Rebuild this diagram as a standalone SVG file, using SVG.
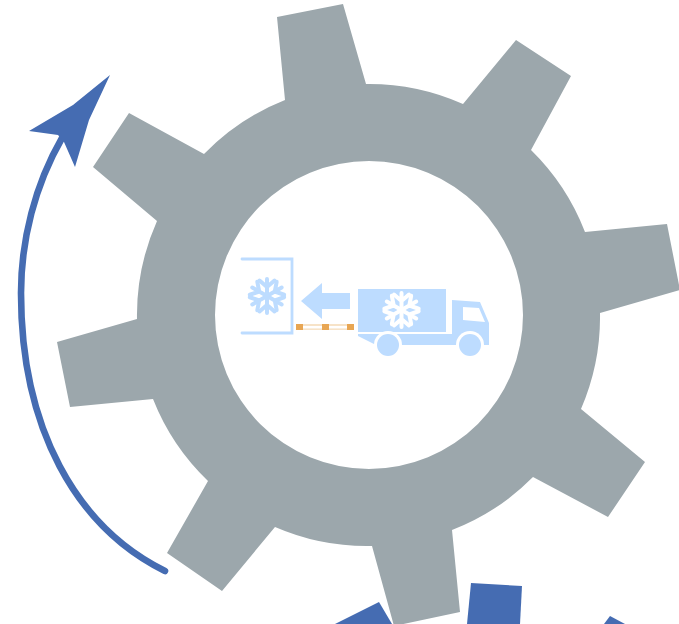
<svg xmlns="http://www.w3.org/2000/svg" width="679" height="624" viewBox="0 0 679 624">
<style>
.ice{fill:#bddcff}
.flk{fill:none;stroke-width:4;stroke-linecap:round;stroke-linejoin:round}
.blue{fill:#456cb2}
</style>
<defs>
<g id="arm"><path d="M0 0V-17M-7.500 -15.500L0 -9L7.500 -15.500"/></g>
<g id="flake" class="flk">
<use href="#arm"/><use href="#arm" transform="rotate(60)"/><use href="#arm" transform="rotate(120)"/><use href="#arm" transform="rotate(180)"/><use href="#arm" transform="rotate(240)"/><use href="#arm" transform="rotate(300)"/>
</g>
</defs>
<rect width="679" height="624" fill="#fff"/>
<g id="lower-gear" class="blue">
<polygon points="379,602 392,624 335,624"/>
<polygon points="471,583 522,586 520,624 467,624"/>
<polygon points="610,616 625,624 604,624"/>
</g>
<g id="gear">
<path fill="#9ca7ac" fill-rule="evenodd" d="M285 100L277 17L343 4L366 84A231 231 0 0 1 463 104L516 40L571 76L531 150A231 231 0 0 1 585 232L667 224L680 290L600 313A231 231 0 0 1 581 409L645 462L608 517L533 477A231 231 0 0 1 452 530L460 612L394 626L372 546A231 231 0 0 1 275 527L222 591L167 553L208 481A231 231 0 0 1 153 399L70 407L57 342L137 319A231 231 0 0 1 157 221L93 167L129 113L204 154A231 231 0 0 1 285 100Z M369 161A154 154 0 1 0 369 469A154 154 0 1 0 369 161Z"/>
</g>
<g id="rotation-arrow">
<path d="M165 571C76 527 21 428 21 293C21 240 35 185 62 138" fill="none" stroke="#456cb2" stroke-width="6.600" stroke-linecap="round"/>
<path class="blue" d="M110 75L73 105L29 131L58 135L64 142L75 167L89 120Z"/>
</g>
<g id="cold-store">
<path d="M242 259H292V333H242" fill="none" stroke="#bddcff" stroke-width="2.800" stroke-linecap="round"/>
<use href="#flake" transform="translate(267 296)" stroke="#bddcff"/>
</g>
<g id="unload-arrow">
<polygon class="ice" points="301,301 322,283 322,293 350,293 350,309 322,309 322,319"/>
</g>
<g id="pallet">
<rect x="296" y="324" width="58" height="6" fill="#f7e3c8"/>
<rect x="302" y="326" width="46" height="2.400" fill="#fff"/>
<rect x="296" y="324" width="7" height="6" fill="#e8a653"/>
<rect x="322" y="324" width="7" height="6" fill="#e8a653"/>
<rect x="347" y="324" width="7" height="6" fill="#e8a653"/>
</g>
<g id="truck">
<rect class="ice" x="358" y="289" width="88" height="43"/>
<path class="ice" d="M452 300L480 302L489 323V345H452V334H358V336L376 345H452Z"/>
<polygon fill="#fff" points="463,307 479,308 485,322 463,320"/>
<circle cx="388" cy="345" r="14" fill="#fff"/>
<circle cx="470" cy="345" r="14" fill="#fff"/>
<circle class="ice" cx="388" cy="345" r="11"/>
<circle class="ice" cx="470" cy="345" r="11"/>
<use href="#flake" transform="translate(401.500 310)" stroke="#fff"/>
</g>
</svg>
